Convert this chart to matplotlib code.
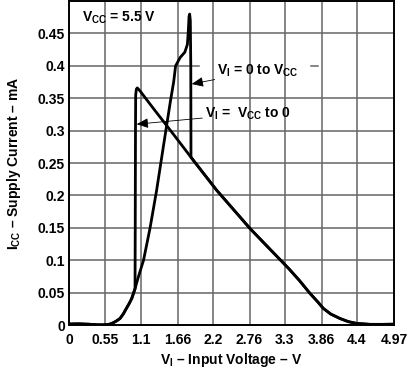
import matplotlib.pyplot as plt
import numpy as np

plt.rcParams['font.family'] = ['Liberation Sans', 'DejaVu Sans']
plt.rcParams['font.weight'] = 'bold'
plt.rcParams['mathtext.fontset'] = 'custom'
plt.rcParams['mathtext.rm'] = 'Liberation Sans:bold'
plt.rcParams['mathtext.it'] = 'Liberation Sans:bold'
plt.rcParams['mathtext.bf'] = 'Liberation Sans:bold'

# low branch shared by both sweeps (V, mA)
low_v = [0, 0.15, 0.3, 0.45, 0.55, 0.62, 0.68, 0.73, 0.78, 0.83, 0.88, 0.92, 0.96, 1.01]
low_i = [0.0015, 0.0018, 0.0012, 0.0003, 0.0003, 0.0012, 0.0036, 0.0065, 0.010, 0.017,
         0.026, 0.033, 0.041, 0.056]

# rising sweep (0 to Vcc) up to the spike and its drop
rise_v = [1.06, 1.14, 1.24, 1.34, 1.45, 1.55, 1.60, 1.63, 1.70, 1.77, 1.81, 1.825,
          1.835, 1.845, 1.855, 1.862, 1.865]
rise_i = [0.074, 0.100, 0.150, 0.208, 0.280, 0.345, 0.375, 0.400, 0.413, 0.421, 0.433,
          0.455, 0.476, 0.480, 0.470, 0.400, 0.259]

# falling diagonal shared by both sweeps
diag_v = [1.044, 1.085, 1.3, 1.6, 1.865, 2.003, 2.258, 2.5, 2.767, 3.0, 3.2, 3.36, 3.52,
          3.684, 3.8, 3.887, 4.0, 4.143, 4.27, 4.398, 4.6, 4.8, 4.94]
diag_i = [0.366, 0.3615, 0.333, 0.294, 0.259, 0.241, 0.208, 0.180, 0.149, 0.1246, 0.1037,
          0.087, 0.069, 0.0488, 0.036, 0.0257, 0.0170, 0.0100, 0.0052, 0.0024, 0.0010,
          0.0010, 0.0012]

# falling sweep (Vcc to 0) vertical drop near 1 V
hyst_v = [1.044, 1.03, 1.02, 1.017, 1.013, 1.01]
hyst_i = [0.366, 0.364, 0.355, 0.30, 0.15, 0.056]

x_ticks = [0, 0.55, 1.1, 1.66, 2.2, 2.76, 3.3, 3.86, 4.4, 4.97]
x_labels = ['0', '0.55', '1.1', '1.66', '2.2', '2.76', '3.3', '3.86', '4.4', '4.97']
y_ticks = [0, 0.05, 0.1, 0.15, 0.2, 0.25, 0.3, 0.35, 0.4, 0.45]
y_labels = ['0', '0.05', '0.1', '0.15', '0.2', '0.25', '0.3', '0.35', '0.4', '0.45']

dv = np.array(diag_v)
di = np.array(diag_i)
tail = dv > 1.865
up_v = np.concatenate([low_v, rise_v, dv[tail]])
up_i = np.concatenate([low_i, rise_i, di[tail]])
dn_v = np.concatenate([dv[::-1], hyst_v, low_v[::-1]])
dn_i = np.concatenate([di[::-1], hyst_i, low_i[::-1]])

fig = plt.figure(figsize=(4.08, 3.70), dpi=100)
ax = fig.add_axes([0.169, 0.1216, 0.797, 0.8754])

grid_c = '0.4'
for xt in x_ticks[1:-1]:
    ax.axvline(xt, color=grid_c, lw=1.1, zorder=1)
for yt in y_ticks[1:]:
    if yt == 0.4:
        ax.axhline(yt, xmax=0.40, color=grid_c, lw=1.1, zorder=1)
        ax.axhline(yt, xmin=0.745, xmax=0.765, color=grid_c, lw=1.1, zorder=1)
    else:
        ax.axhline(yt, color=grid_c, lw=1.1, zorder=1)

ax.plot(up_v, up_i, color='black', lw=2, zorder=3)
ax.plot(dn_v, dn_i, color='black', lw=2, zorder=3)

ax.set_xlim(0, 4.97)
ax.set_ylim(0, 0.5)
ax.set_xticks(x_ticks)
ax.set_xticklabels(x_labels)
ax.set_yticks(y_ticks)
ax.set_yticklabels(y_labels)
ax.tick_params(length=0, labelsize=10)
ax.tick_params(axis='x', pad=6)
ax.tick_params(axis='y', pad=3)
for s in ax.spines.values():
    s.set_linewidth(1.4)
    s.set_zorder(4)

ax.set_xlabel(r'$V_I$ – Input Voltage – V', fontsize=10, fontweight='bold', va='center')
ax.xaxis.set_label_coords(0.5, -0.108)
ax.set_ylabel(r'$I_{CC}$ – Supply Current – mA', fontsize=10, fontweight='bold', va='center')
ax.yaxis.set_label_coords(-0.17, 0.5)

ax.text(0.2, 0.474, r'$V_{CC}$ = 5.5 V', fontsize=10, fontweight='bold', va='center', zorder=5)

arrow = dict(arrowstyle='-|>,head_length=0.7,head_width=0.3', color='black', lw=0.6,
             shrinkA=0, shrinkB=0)
ax.annotate(r'$V_I$ = 0 to $V_{CC}$', xy=(1.876, 0.372), xytext=(2.27, 0.392),
            fontsize=10, fontweight='bold', va='center', ha='left', arrowprops=arrow, zorder=5)
ax.annotate(r'$V_I$ =  $V_{CC}$ to 0', xy=(1.035, 0.310), xytext=(2.08, 0.326),
            fontsize=10, fontweight='bold', va='center', ha='left', arrowprops=arrow, zorder=5)

fig.savefig('out.png', dpi=100)
